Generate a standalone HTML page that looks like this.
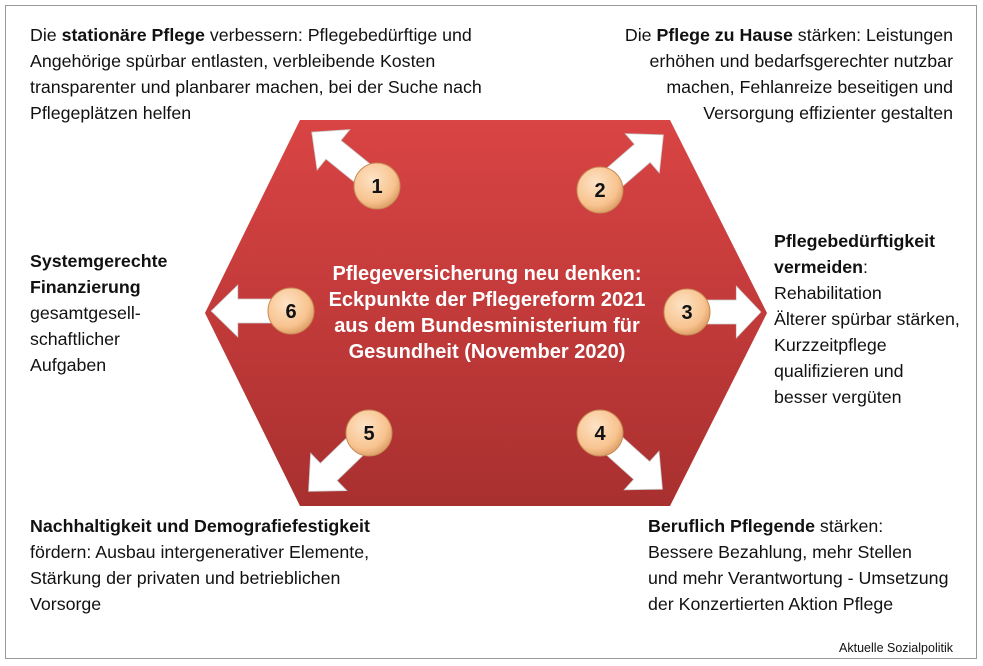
<!DOCTYPE html>
<html><head><meta charset="utf-8"><style>
body{margin:0;background:#fff;width:983px;height:666px;overflow:hidden;font-family:"Liberation Sans",Arial,sans-serif;}
.frame{position:absolute;left:5px;top:5px;width:972px;height:654px;border:1px solid #999;box-sizing:border-box;}
.t{position:absolute;font-size:17.8px;line-height:26px;color:#111;white-space:nowrap;}
b{font-weight:bold;}
</style></head><body>
<div class="frame"></div>
<svg width="983" height="666" style="position:absolute;left:0;top:0">
<defs>
<linearGradient id="hg" x1="0" y1="0" x2="0" y2="1">
<stop offset="0" stop-color="#d94444"/><stop offset="0.5" stop-color="#c23a3a"/><stop offset="1" stop-color="#a8302f"/></linearGradient>
<radialGradient id="cg" cx="0.4" cy="0.35" r="0.7">
<stop offset="0" stop-color="#fde3c6"/><stop offset="0.7" stop-color="#f8c38f"/><stop offset="1" stop-color="#d99a62"/></radialGradient>
<g id="ar"><polygon points="0,-12 56,-12 56,-26 84,0 56,26 56,12 0,12" fill="#fff" stroke="#ccc" stroke-width="0.8"/></g>
</defs>
<polygon points="300,120 670,120 767,313 670,506 300,506 205,313" fill="url(#hg)"/>
<use href="#ar" transform="translate(377,185) rotate(-141)"/>
<use href="#ar" transform="translate(600,190) rotate(-41)"/>
<use href="#ar" transform="translate(687,312) scale(0.88,1)"/>
<use href="#ar" transform="translate(291,311) rotate(180) scale(0.95,1)"/>
<use href="#ar" transform="translate(369,433) rotate(136)"/>
<use href="#ar" transform="translate(600,433) rotate(42)"/>
<g font-family="Liberation Sans,Arial,sans-serif" font-weight="bold" font-size="20" text-anchor="middle" fill="#111">
<circle cx="377" cy="186" r="23" fill="url(#cg)" stroke="#c98a55"/><text x="377" y="193">1</text>
<circle cx="600" cy="190" r="23" fill="url(#cg)" stroke="#c98a55"/><text x="600" y="197">2</text>
<circle cx="687" cy="312" r="23" fill="url(#cg)" stroke="#c98a55"/><text x="687" y="319">3</text>
<circle cx="600" cy="433" r="23" fill="url(#cg)" stroke="#c98a55"/><text x="600" y="440">4</text>
<circle cx="369" cy="433" r="23" fill="url(#cg)" stroke="#c98a55"/><text x="369" y="440">5</text>
<circle cx="291" cy="311" r="23" fill="url(#cg)" stroke="#c98a55"/><text x="291" y="318">6</text>
</g>
<g font-family="Liberation Sans,Arial,sans-serif" font-weight="bold" font-size="20" text-anchor="middle" fill="#fff">
<text x="487" y="280">Pflegeversicherung neu denken:</text>
<text x="487" y="306">Eckpunkte der Pflegereform 2021</text>
<text x="487" y="332">aus dem Bundesministerium für</text>
<text x="487" y="358">Gesundheit (November 2020)</text>
</g>
</svg>
<div class="t" style="left:30px;top:22px">Die <b>stationäre Pflege</b> verbessern: Pflegebedürftige und<br>Angehörige spürbar entlasten, verbleibende Kosten<br>transparenter und planbarer machen, bei der Suche nach<br>Pflegeplätzen helfen</div>
<div class="t" style="right:30px;top:22px;text-align:right">Die <b>Pflege zu Hause</b> stärken: Leistungen<br>erhöhen und bedarfsgerechter nutzbar<br>machen, Fehlanreize beseitigen und<br>Versorgung effizienter gestalten</div>
<div class="t" style="left:30px;top:248px"><b>Systemgerechte<br>Finanzierung</b><br>gesamtgesell-<br>schaftlicher<br>Aufgaben</div>
<div class="t" style="left:774px;top:228px"><b>Pflegebedürftigkeit<br>vermeiden</b>:<br>Rehabilitation<br>Älterer spürbar stärken,<br>Kurzzeitpflege<br>qualifizieren und<br>besser vergüten</div>
<div class="t" style="left:30px;top:513px"><b>Nachhaltigkeit und Demografiefestigkeit</b><br>fördern: Ausbau intergenerativer Elemente,<br>Stärkung der privaten und betrieblichen<br>Vorsorge</div>
<div class="t" style="left:648px;top:513px"><b>Beruflich Pflegende</b> stärken:<br>Bessere Bezahlung, mehr Stellen<br>und mehr Verantwortung - Umsetzung<br>der Konzertierten Aktion Pflege</div>
<div style="position:absolute;right:30px;top:641px;font-size:12.5px;color:#111">Aktuelle Sozialpolitik</div>
</body></html>
